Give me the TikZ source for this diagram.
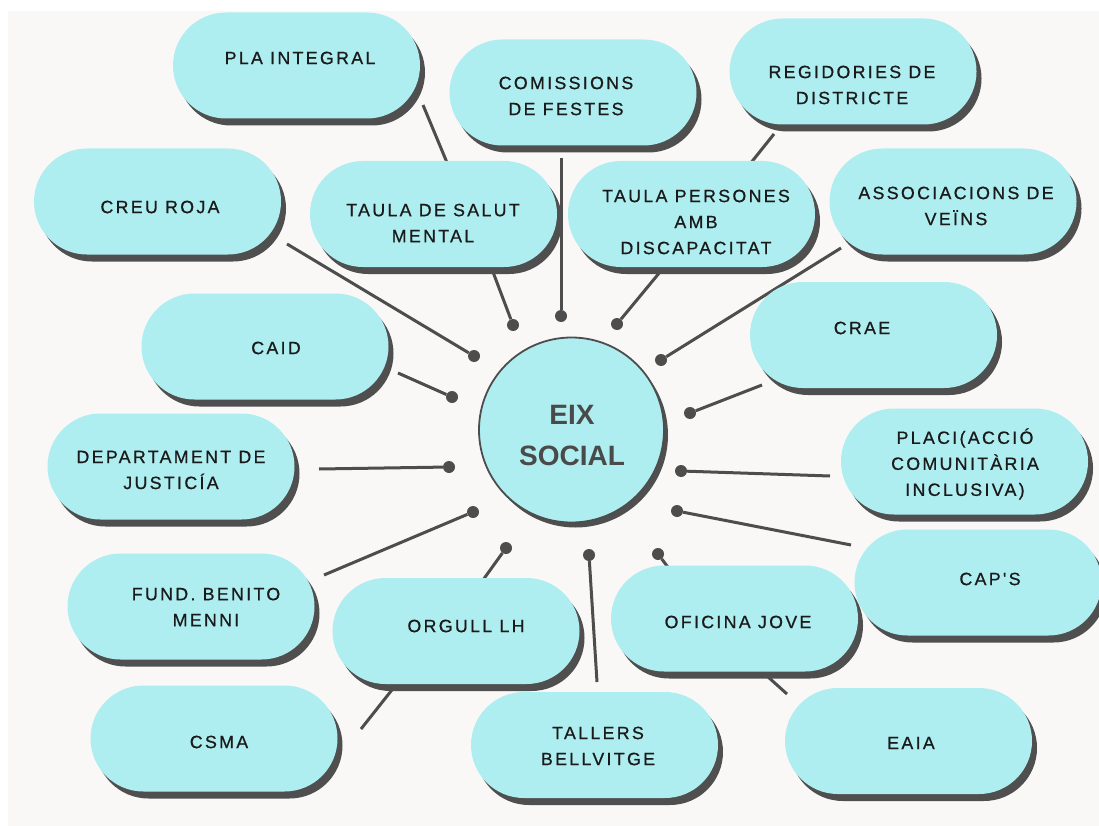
\documentclass[tikz,border=0pt]{standalone}
\usepackage{fontspec}
\setmainfont{Liberation Sans}
\newfontfamily\pillfont[LetterSpace=13,FakeBold=0.7]{Liberation Sans}
\newfontfamily\hubfont{Liberation Sans}
\usetikzlibrary{shapes.misc,shadows}
\definecolor{bgc}{HTML}{F9F8F7}
\definecolor{pillc}{HTML}{AFEEF0}
\definecolor{shadowc}{HTML}{4F4F4F}
\definecolor{linec}{HTML}{4D4D4D}
\definecolor{txtc}{HTML}{1A1A1A}
\definecolor{hubtxt}{HTML}{4A4A4A}
\tikzset{
  pill/.style={rounded rectangle, fill=pillc, minimum width=247pt, minimum height=106pt, inner sep=0pt,
    drop shadow={shadow xshift=5pt, shadow yshift=-7pt, fill=shadowc, opacity=1}},
  pilltext/.style={align=center, text=txtc, font=\pillfont\fontsize{17.8}{26}\selectfont, inner sep=0pt},
  conn/.style={draw=linec, line width=3pt},
  dotnode/.style={circle, fill=linec, minimum size=12pt, inner sep=0pt},
  hub/.style={circle, fill=pillc, draw=linec, line width=1.8pt, minimum size=185pt, inner sep=0pt,
    drop shadow={shadow xshift=4pt, shadow yshift=-5pt, fill=shadowc, opacity=1}},
}
\begin{document}
\begin{tikzpicture}[x=1pt,y=-1pt]
\useasboundingbox (0,0) rectangle (1099,826);
\fill[white] (0,0) rectangle (1099,826);
\fill[bgc] (8,11) rectangle (1099,826);

% dots and connector end points
\node[dotnode] (d-creu) at (474,356) {};
\node[dotnode] (d-caid) at (452,397) {};
\node[dotnode] (d-dept) at (449,467) {};
\node[dotnode] (d-fund) at (473,512) {};
\node[dotnode] (d-orgull) at (506,548) {};
\node[dotnode] (d-tallers) at (589,555) {};
\node[dotnode] (d-ofic) at (658,554) {};
\node[dotnode] (d-caps) at (677,511) {};
\node[dotnode] (d-placi) at (681,471) {};
\node[dotnode] (d-crae) at (690,413) {};
\node[dotnode] (d-assoc) at (661,360) {};
\node[dotnode] (d-tpers) at (617,324) {};
\node[dotnode] (d-comis) at (561,316) {};
\node[dotnode] (d-tsalut) at (513,325) {};

\coordinate (e-creu) at (287,244);
\coordinate (e-caid) at (398,373);
\coordinate (e-dept) at (319,469);
\coordinate (e-fund) at (324,575);
\coordinate (e-orgull) at (483,580);
\coordinate (e-tallers) at (597,682);
\coordinate (e-ofic) at (670,570);
\coordinate (e-caps) at (851,545);
\coordinate (e-placi) at (830,476);
\coordinate (e-crae) at (762,385);
\coordinate (e-assoc) at (841,248);
\coordinate (e-tpers) at (660,272);
\coordinate (e-comis) at (561,158);
\coordinate (e-tsalut) at (493,272);

\coordinate (l-pla) at (423,105);
\coordinate (l-tsalut) at (448,165);
\coordinate (l-regid) at (774,134);
\coordinate (l-tpers) at (750,164);
\coordinate (l-orgull) at (395,686);
\coordinate (l-csma) at (361,729);
\coordinate (l-ofic) at (767,676);
\coordinate (l-eaia) at (787,694);

\foreach \n in {creu,caid,dept,fund,orgull,tallers,ofic,caps,placi,crae,assoc,tpers,comis,tsalut}
  \draw[conn] (e-\n) -- (d-\n);
\draw[conn] (l-pla) -- (l-tsalut);
\draw[conn] (l-regid) -- (l-tpers);
\draw[conn] (l-orgull) -- (l-csma);
\draw[conn] (l-ofic) -- (l-eaia);

% pills
\node[pill] (pla) at (296.5,65.5) {};
\node[pilltext] (pla-t) at (300,58) {PLA INTEGRAL};
\node[pill] (comis) at (573,92.5) {};
\node[pilltext] (comis-t) at (566,96) {COMISSIONS\\DE FESTES};
\node[pill] (regid) at (853,71.5) {};
\node[pilltext] (regid-t) at (852,85) {REGIDORIES DE\\DISTRICTE};
\node[pill] (creu) at (157.5,201.5) {};
\node[pilltext] (creu-t) at (160,207) {CREU ROJA};
\node[pill] (tsalut) at (433.5,214) {};
\node[pilltext] (tsalut-t) at (433,223) {TAULA DE SALUT\\MENTAL};
\node[pill] (tpers) at (691.5,214) {};
\node[pilltext] (tpers-t) at (696,222) {TAULA PERSONES\\AMB\\DISCAPACITAT};
\node[pill] (assoc) at (953,201.5) {};
\node[pilltext] (assoc-t) at (956,206) {ASSOCIACIONS DE\\VEÏNS};
\node[pill] (caid) at (265,346.5) {};
\node[pilltext] (caid-t) at (276,348) {CAID};
\node[pill] (crae) at (873.5,335) {};
\node[pilltext] (crae-t) at (862,328) {CRAE};
\node[pill] (dept) at (171,466.5) {};
\node[pilltext] (dept-t) at (171,470) {DEPARTAMENT DE\\JUSTICÍA};
\node[pill] (placi) at (964.5,461.5) {};
\node[pilltext] (placi-t) at (965,464) {PLACI(ACCIÓ\\COMUNITÀRIA\\INCLUSIVA)};
\node[pill] (fund) at (191,606.5) {};
\node[pilltext] (fund-t) at (206,607) {FUND. BENITO\\MENNI};
\node[pill] (caps) at (978,582.5) {};
\node[pilltext] (caps-t) at (990,579) {CAP'S};
\node[pill] (ofic) at (734.5,618.5) {};
\node[pilltext] (ofic-t) at (738,622) {OFICINA JOVE};
\node[pill] (orgull) at (456,631) {};
\node[pilltext] (orgull-t) at (466,626) {ORGULL LH};
\node[pill] (csma) at (214,738.5) {};
\node[pilltext] (csma-t) at (219,742) {CSMA};
\node[pill] (tallers) at (594.5,745) {};
\node[pilltext] (tallers-t) at (598,746) {TALLERS\\BELLVITGE};
\node[pill] (eaia) at (908.5,741) {};
\node[pilltext] (eaia-t) at (911,743) {EAIA};

% hub
\node[hub] (eix) at (571.5,430) {};
\node[align=center, text=hubtxt, font=\hubfont\bfseries\fontsize{28}{41}\selectfont, inner sep=0pt] (eix-t) at (572,436) {EIX\\SOCIAL};
\end{tikzpicture}
\end{document}
